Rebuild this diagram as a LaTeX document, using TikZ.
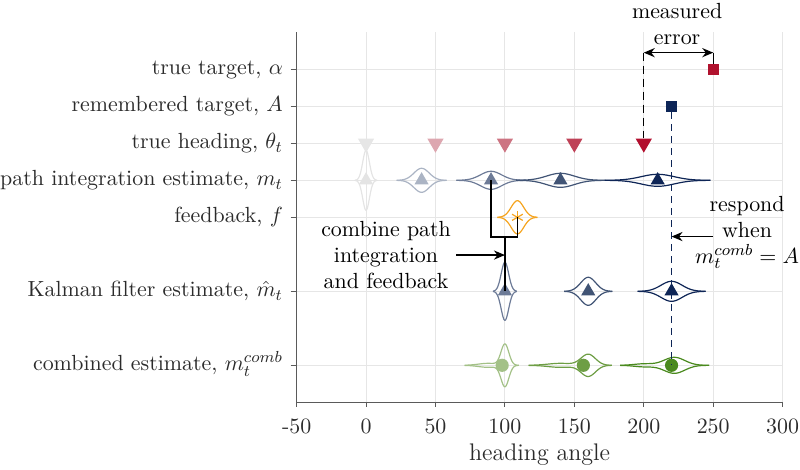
\documentclass[tikz,border=0pt]{standalone}
\usepackage{amsmath,amssymb}
\usepackage{xcolor}
\usepackage{tikz}
\usetikzlibrary{arrows.meta,positioning,calc,shapes.geometric}
\definecolor{crimson}{HTML}{B0122E}
\definecolor{navy}{HTML}{0D2557}
\definecolor{hdA}{HTML}{E6E6E6}
\definecolor{hdB}{HTML}{DDA7B0}
\definecolor{hdC}{HTML}{CD7482}
\definecolor{hdD}{HTML}{BF4257}
\definecolor{hdE}{HTML}{B20F2E}
\definecolor{estA}{HTML}{E4E4E4}
\definecolor{estB}{HTML}{ABB4C4}
\definecolor{estC}{HTML}{6D7B97}
\definecolor{estD}{HTML}{415475}
\definecolor{estE}{HTML}{0E2556}
\definecolor{grnC}{HTML}{A3C187}
\definecolor{grnD}{HTML}{6E9E45}
\definecolor{grnE}{HTML}{4A8A1E}
\definecolor{fbk}{HTML}{F5A41F}
\definecolor{gridgray}{HTML}{E6E6E6}
\definecolor{axisgray}{HTML}{5A5A5A}
\definecolor{textgray}{HTML}{2B2B2B}
\newcommand{\labelsize}{\fontsize{10.95pt}{13pt}\selectfont}
% gaussian bump: height (px), mean, sd
\newcommand{\gaussbump}[3]{(#1)*exp(-0.5*((\x-(#2))/(#3))*((\x-(#2))/(#3)))}
% mirrored density: colour, row, from, to, density
\newcommand{\violin}[5]{%
  \draw[violinline,#1] plot[domain=#3:#4] (\x,{#2-(#5)/37});
  \draw[violinline,#1] plot[domain=#3:#4] (\x,{#2+(#5)/37});}
\tikzset{
  gridline/.style={draw=gridgray,line width=.5pt},
  axisline/.style={draw=axisgray,line width=.55pt},
  rowlabel/.style={anchor=base east,inner sep=0pt,text=textgray,font=\labelsize},
  ticklabel/.style={anchor=base,inner sep=0pt,text=textgray,font=\labelsize},
  violinline/.style={line width=.6pt,samples=90,line join=round},
  downtri/.style={regular polygon,regular polygon sides=3,shape border rotate=180,
    inner sep=0pt,minimum size=9.4pt},
  uptri/.style={regular polygon,regular polygon sides=3,inner sep=0pt,minimum size=8.2pt},
  sqmark/.style={rectangle,inner sep=0pt,minimum size=5.4pt},
  dotmark/.style={circle,inner sep=0pt,minimum size=6.6pt},
  note/.style={align=center,font=\labelsize,inner sep=0pt},
  arrow/.style={-{Stealth[length=5.5pt,width=4.6pt,inset=1.8pt]},line width=.7pt},
  twoarrow/.style={{Stealth[length=5.5pt,width=4.6pt,inset=1.8pt]}-{Stealth[length=5.5pt,width=4.6pt,inset=1.8pt]},line width=.7pt},
  linkline/.style={line width=.6pt}
}

\begin{document}
\begin{tikzpicture}[x=0.6943pt,y=-18.5pt]
\useasboundingbox (-263.6,-1.873) rectangle (312.5,10.803);
% grid and axes
\foreach \v in {0,50,...,300} \draw[gridline] (\v,-1) -- (\v,9);
\foreach \r in {0,1,2,3,4,6,8} \draw[gridline] (-50,\r) -- (300,\r);
\draw[axisline] (-50,-1) -- (-50,9) -- (300,9);
\foreach \r in {0,1,2,3,4,6,8} \draw[axisline] (-54.3,\r) -- (-50,\r);
\foreach \v in {-50,0,...,300} {
  \draw[axisline] (\v,9) -- (\v,9.135);
  \node[ticklabel] (tick\v) at (\v,9.843) {\v};
}
\node[anchor=base,inner sep=0pt,text=textgray,font=\fontsize{12pt}{14pt}\selectfont]
  (xlabel) at (125,10.56) {heading angle};
\node[rowlabel] (lblalpha) at (-59.6,0.151) {true target, $\alpha$};
\node[rowlabel] (lblA) at (-59.6,1.151) {remembered target, $A$};
\node[rowlabel] (lbltheta) at (-59.6,2.151) {true heading, $\theta_t$};
\node[rowlabel] (lblm) at (-59.6,3.151) {path integration estimate, $m_t$};
\node[rowlabel] (lblf) at (-59.6,4.151) {feedback, $f$};
\node[rowlabel] (lblkf) at (-59.6,6.151) {Kalman filter estimate, $\hat{m}_t$};
\node[rowlabel] (lblcomb) at (-59.6,8.151) {combined estimate, $m_t^{comb}$};

% densities
\violin{estA}{3}{-8}{8}{\gaussbump{30}{0}{2.4}}
\violin{estB}{3}{22}{58}{\gaussbump{12}{40}{5.5}}
\violin{estC}{3}{65}{115}{\gaussbump{9}{90}{7.6}}
\violin{estD}{3}{108}{172}{\gaussbump{7}{140}{10}}
\violin{estE}{3}{172}{248}{\gaussbump{6}{210}{11.9}}
\violin{fbk}{4}{94.6}{123.4}{\gaussbump{16.6}{109}{4.5}}
\violin{estC}{6}{91.4}{108.6}{\gaussbump{29}{100}{2.7}}
\violin{estD}{6}{142.7}{177.3}{\gaussbump{14}{160}{5.4}}
\violin{estE}{6}{195.5}{244.5}{\gaussbump{10}{220}{7.6}}
\violin{grnC}{8}{71}{110}{\gaussbump{21}{100}{2.8}+\gaussbump{2}{88}{7}}
\violin{grnD}{8}{117}{177}{\gaussbump{11}{160}{5.2}+\gaussbump{2}{140}{9}}
\violin{grnE}{8}{183}{247}{\gaussbump{8}{222}{7.5}+\gaussbump{1.5}{200}{7}}

% markers
\node[sqmark,fill=crimson] (alpha) at (250,0) {};
\node[sqmark,fill=navy] (remA) at (220,1) {};
\node[downtri,fill=hdA] (th0) at (0,2) {};
\node[downtri,fill=hdB] (th1) at (50,2) {};
\node[downtri,fill=hdC] (th2) at (100,2) {};
\node[downtri,fill=hdD] (th3) at (150,2) {};
\node[downtri,fill=hdE] (th4) at (200,2) {};
\node[uptri,fill=estA] (m0) at (0,3) {};
\node[uptri,fill=estB] (m1) at (40,3) {};
\node[uptri,fill=estC] (m2) at (90,3) {};
\node[uptri,fill=estD] (m3) at (140,3) {};
\node[uptri,fill=estE] (m4) at (210,3) {};
\node[inner sep=0pt,minimum size=0pt] (fb) at (109,4) {};
\foreach \a in {90,30,150}
  \draw[fbk,line width=.6pt] ($(fb)+(\a:3.1pt)$) -- ($(fb)+(\a+180:3.1pt)$);
\node[uptri,fill=estC] (kf2) at (100,6) {};
\node[uptri,fill=estD] (kf3) at (160,6) {};
\node[uptri,fill=estE] (kf4) at (220,6) {};
\node[dotmark,fill=grnC] (cmb2) at (98,8) {};
\node[dotmark,fill=grnD] (cmb3) at (156.5,8) {};
\node[dotmark,fill=grnE] (cmb4) at (220,8) {};

% measured error
\node[note] (errlbl) at (224,-1.23) {measured\\error};
\coordinate (errL) at (200,-0.45);
\coordinate (errR) at (250,-0.45);
\draw[twoarrow] (errL) -- (errR);
\draw[linkline,dash pattern=on 4pt off 2.5pt] (errL) -- (th4.north);
\draw[linkline] (errR) -- (alpha.north);
\draw[linkline,navy,dash pattern=on 3.5pt off 2.5pt] (remA.south) -- (cmb4.center);

% combining path integration and feedback
\coordinate (merge) at (100,4.53);
\draw[linkline] (m2.center) |- (merge) -| (fb.center);
\draw[linkline] (merge) -- (kf2.center);
\node[note] (cmblbl) at (14.4,5.03) {combine path\\integration\\and feedback};
\coordinate (cmbtail) at (64.8,5.02);
\coordinate (cmbtip) at (100,5.02);
\draw[arrow] (cmbtail) -- (cmbtip);

% response
\node[note] (resplbl) at (274.4,4.41) {respond\\when\\$m_t^{comb}=A$};
\coordinate (resptail) at (250,4.52);
\coordinate (resptip) at (220,4.52);
\draw[arrow] (resptail) -- (resptip);
\end{tikzpicture}
\end{document}
